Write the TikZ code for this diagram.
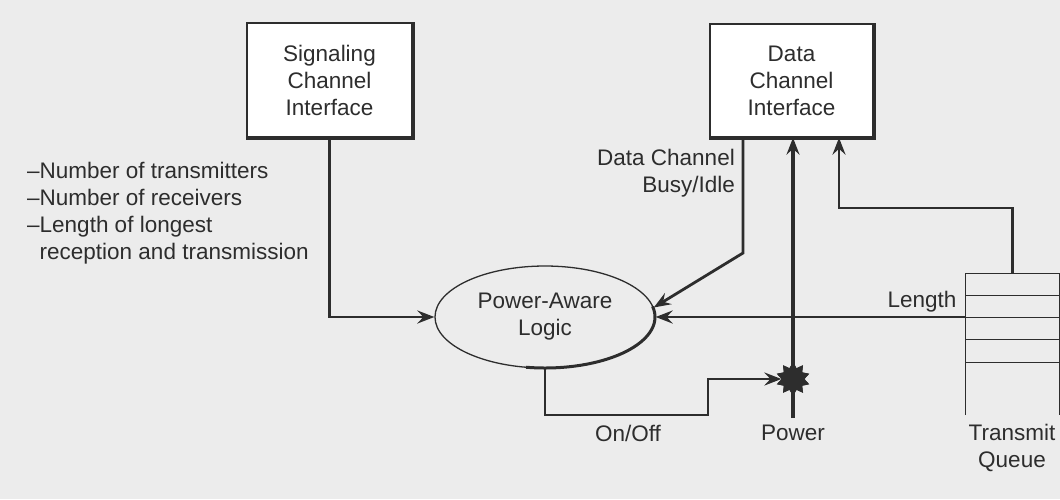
\documentclass[tikz,border=0pt]{standalone}
\usepackage{fontspec}
\setmainfont{Liberation Sans}
\usetikzlibrary{shapes.geometric,arrows.meta,calc}
\definecolor{bg}{RGB}{236,236,236}
\definecolor{ink}{RGB}{45,45,45}
\begin{document}
\begin{tikzpicture}[x=1pt,y=-1pt,
  txt/.style={font=\fontsize{22.5}{27}\selectfont, text=ink, inner sep=0pt, align=center},
  boxnode/.style={txt, draw=ink, line width=1.4pt, fill=white},
  shadowline/.style={draw=ink, line width=4pt},
  conn/.style={draw=ink, line width=2.8pt, -{Stealth[length=17pt,width=13pt,inset=6pt]}},
  thin/.style={draw=ink, line width=1.3pt},
  junction/.style={star, star points=10, star point ratio=1.5, fill=ink, minimum size=34pt, inner sep=0pt},
]
\useasboundingbox (0,0) rectangle (1060,499);
\fill[bg] (0,0) rectangle (1060,499);

% boxes
\node[boxnode, minimum width=165pt, minimum height=114pt] (sig) at (329.5,80)
  {Signaling\\Channel\\Interface};
\draw[shadowline] (sig.south west) -- (sig.south east) -- (sig.north east);
\node[boxnode, minimum width=163pt, minimum height=113pt] (data) at (791.5,80.5)
  {Data\\Channel\\Interface};
\draw[shadowline] (data.south west) -- (data.south east) -- (data.north east);

% ellipse
\node[txt, ellipse, draw=ink, line width=1.3pt, minimum width=220pt, minimum height=102pt] (ell) at (545,317)
  {Power-Aware\\Logic};
\draw[draw=ink, line width=3pt] ($(ell.center)+({110*cos(-12)},{51*sin(-12)})$)
  arc[start angle=-12, end angle=100, x radius=110, y radius=51];

% transmit queue
\node[minimum width=93pt, minimum height=141pt, inner sep=0pt] (q) at (1012.5,344.5) {};
\draw[thin] (q.south west) -- (q.north west) -- (q.north east) -- (q.south east);
\foreach \d in {22,44,66,89} {
  \draw[thin] ([yshift=-\d pt]q.north west) -- ([yshift=-\d pt]q.north east);
}

% left list
\node[txt, align=left, anchor=north west] (list) at (27,162)
  {–Number of transmitters\\–Number of receivers\\–Length of longest\\\phantom{–}reception and transmission};

% coordinates
\coordinate (bk) at (743,253);
\coordinate (qt) at (839,208);
\coordinate (pw) at (793,418);
\coordinate (oo) at (708,415);
\coordinate (bx) at (743,0);

% star junction
\node[junction] (st) at (793,379) {};

% connectors
\draw[conn] (sig.south) |- (ell.west);
\draw[conn] (bx |- data.south) -- (bk) -- (ell.5);
\draw[conn] (ell.east -| q.west) -- (ell.east);
\draw[conn] (q.north) |- (qt) -- (qt |- data.south);
\draw[conn, line width=4pt] (pw) -- (pw |- data.south);
\draw[conn] (ell.south) |- (oo) |- (st.west);
\node[junction] at (st) {};

% labels
\node[txt, align=right, anchor=east] (busy) at (735,173) {Data Channel\\Busy/Idle};
\node[txt] (len) at (922,302) {Length};
\node[txt] (onoff) at (628,433) {On/Off};
\node[txt] (pwr) at (793,433) {Power};
\node[txt] (tq) at (1012,448) {Transmit\\Queue};
\end{tikzpicture}
\end{document}
